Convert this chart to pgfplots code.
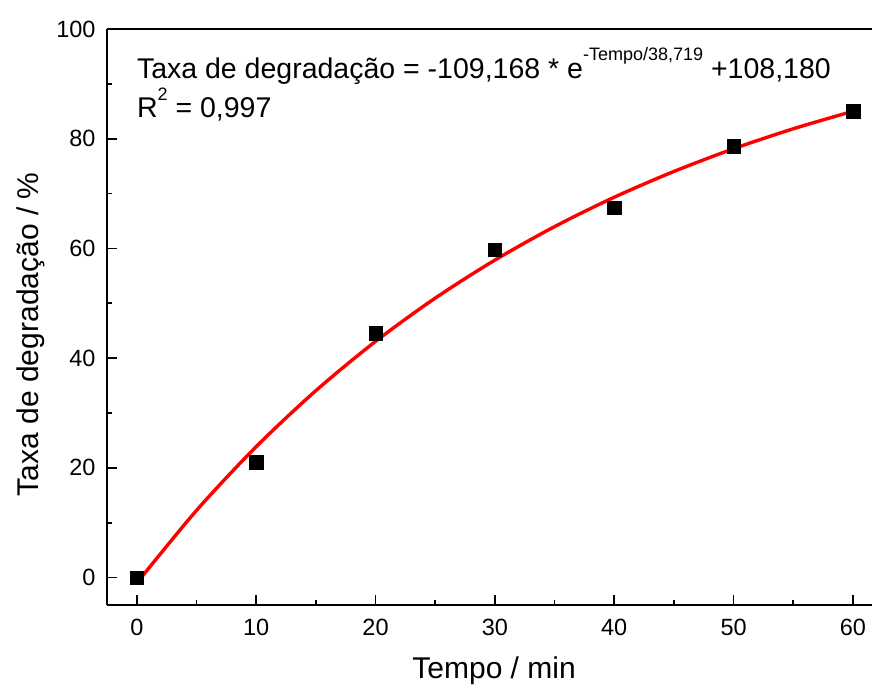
\documentclass[border=0pt]{standalone}
\usepackage{pgfplots}
\pgfplotsset{compat=1.18}
\usepackage{fontspec}
\setmainfont{Liberation Sans}

\begin{document}
\begin{tikzpicture}
\begin{axis}[
    name=ax,
    scale only axis,
    width=765pt, height=576pt,
    xmin=-2.5, xmax=61.6,
    ymin=-5, ymax=100,
    axis x line=box,
    axis y line=left,
    xtick pos=lower,
    axis line style={line width=1.8pt, -},
    xtick={0,10,...,60},
    ytick={0,20,...,100},
    minor x tick num=1,
    minor y tick num=1,
    tick align=inside,
    major tick length=10pt,
    minor tick length=5pt,
    every tick/.style={line width=1.6pt, black},
    /pgf/number format/assume math mode=true,
    tick label style={font=\fontsize{23.5}{27}\selectfont},
    xticklabel style={yshift=-11pt},
    yticklabel style={xshift=-8pt},
    xlabel={Tempo / min},
    ylabel={Taxa de degradação / \%},
    label style={font=\fontsize{30}{34}\selectfont},
    xlabel style={at={(axis description cs:0.506,-0.127)}, anchor=base},
    ylabel style={at={(axis description cs:-0.1,0.47)}, anchor=center},
]
% experimental points
\addplot[only marks, mark=square*, mark size=6.8pt, black] coordinates {
    (0,0) (10,21) (20,44.6) (30,59.8) (40,67.4) (50,78.6) (60,85)
};
% exponential fit, tabulated
\addplot[red, line width=3.4pt, smooth] coordinates {
    (0,-0.99) (5,12.24) (10,23.86) (15,34.07) (20,43.05) (25,50.94)
    (30,57.87) (35,63.97) (40,69.33) (45,74.03) (50,78.17) (55,81.81) (60,85.00)
};
\node[anchor=base west, inner sep=0pt, font=\fontsize{28.5}{32}\selectfont]
    at (axis cs:0,91.0) {Taxa de degradação = -109,168 * e\raisebox{0.62em}{\fontsize{18}{18}\selectfont -Tempo/38,719} +108,180};
\node[anchor=base west, inner sep=0pt, font=\fontsize{28.5}{32}\selectfont]
    at (axis cs:0,83.8) {R\raisebox{0.62em}{\fontsize{18}{18}\selectfont 2} = 0,997};
\end{axis}
\pgfresetboundingbox
\path[use as bounding box] ([xshift=-107pt,yshift=-81pt]ax.south west) rectangle ([yshift=29pt]ax.north east);
\end{tikzpicture}
\end{document}
